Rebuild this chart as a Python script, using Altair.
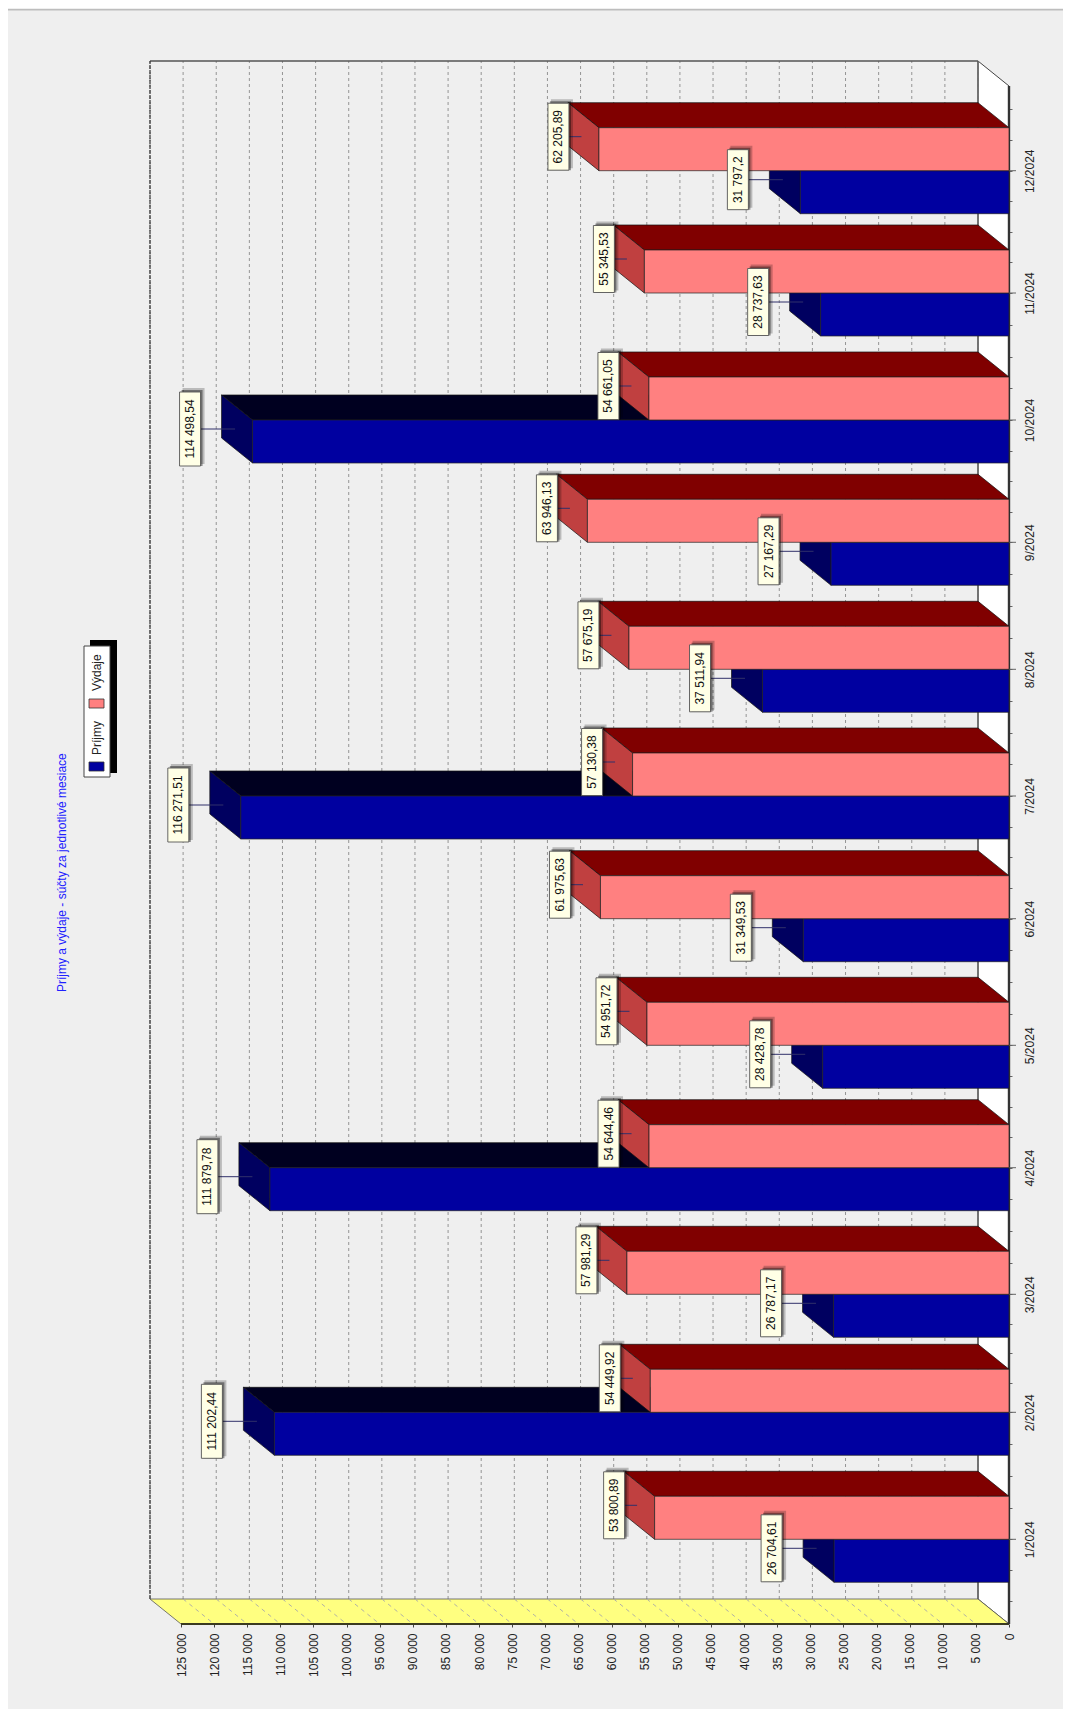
import altair as alt
import numpy as np
import pandas as pd

# ---- values ----
MONTHS = list(range(1, 13))
PRIJMY = [26704.61, 111202.44, 26787.17, 111879.78, 28428.78, 31349.53,
          116271.51, 37511.94, 27167.29, 114498.54, 28737.63, 31797.2]
VYDAJE = [53800.89, 54449.92, 57981.29, 54644.46, 54951.72, 61975.63,
          57130.38, 57675.19, 63946.13, 54661.05, 55345.53, 62205.89]
GRID = list(range(0, 125001, 5000))
QUARTERS = [q / 4 for q in range(2, 51)]
TITLE = "Príjmy a výdaje - súčty za jednotlivé mesiace"

# ---- scale set-up: the months of the reference are not evenly spaced ----
W, H = 859, 1563
PLOT_LEFT, PLOT_TOP = 150, 61
MONTH_ROW_PX = [1539.3, 1412.3, 1294.3, 1167.7, 1045.3, 918.7, 796, 669.3, 542.3, 420, 293, 170.7]
VAL_PX = 125000 / 828          # value units per pixel
DX = 31 * VAL_PX               # depth, along the value scale
DY_PX = 25                     # depth, in pixels
THICK_PX = 43                  # bar thickness in pixels
BAR_NUDGE = 2 * VAL_PX         # the reference draws its bar ends 2px short of the tick scale
PX_BOTTOM = PLOT_TOP + H
X_MAX = W * VAL_PX
Y_MIN = 1 - (PX_BOTTOM - MONTH_ROW_PX[0]) / 124.36
Y_MAX = 12 + (MONTH_ROW_PX[-1] - PLOT_TOP) / 124.36
FONT = "Liberation Sans"

Y_DOMAIN = [Y_MIN] + MONTHS + [Y_MAX]
Y_PAGE = [PX_BOTTOM] + MONTH_ROW_PX + [PLOT_TOP]


def M(page_y):
    """Month-scale position of a page pixel row (inverse of the y scale)."""
    return float(np.interp(-page_y, [-p for p in Y_PAGE], Y_DOMAIN))


xs = alt.Scale(domain=[X_MAX, 0], nice=False, zero=False)
ys = alt.Scale(domain=Y_DOMAIN, range=[p - PLOT_TOP for p in Y_PAGE], nice=False, zero=False)
x_axis = alt.Axis(values=GRID, labelAngle=270, labelAlign="right", labelBaseline="middle",
                  labelExpr="replace(format(datum.value, ','), ',', ' ')", labelOverlap=False,
                  labelFlush=False, labelBound=False, domain=False, grid=False, tickSize=3, tickColor="#444",
                  labelPadding=6, labelFont=FONT, labelFontSize=12, labelColor="#222", orient="bottom", title=None)
y_axis = alt.Axis(values=QUARTERS, orient="right", labelAngle=270, labelAlign="center",
                  labelBaseline="middle", labelExpr="datum.value % 1 === 0 ? datum.value + '/2024' : ''",
                  labelOverlap=False, labelFlush=False, labelBound=False, domain=False, grid=False, tickSize=3,
                  tickColor="#666", labelPadding=17, labelFont=FONT, labelFontSize=12, labelColor="#222", title=None)
X = lambda f="x": alt.X(f"{f}:Q", scale=xs, axis=x_axis, title=None)
Y = lambda f="y": alt.Y(f"{f}:Q", scale=ys, axis=y_axis, title=None)
X2 = lambda f="x2": alt.X2(f"{f}:Q")
Y2 = lambda f="y2": alt.Y2(f"{f}:Q")


def hpx(p):  # page pixel -> plot pixel
    return p - PLOT_LEFT


def vpx(p):
    return p - PLOT_TOP


one = pd.DataFrame({"a": [0]})


def box(x0, x1, y0, y1, **kw):
    return alt.Chart(one).mark_rect(**kw).encode(
        x=alt.value(hpx(x0)), x2=alt.value(hpx(x1)),
        y=alt.value(vpx(y0)), y2=alt.value(vpx(y1)))


def label(x, y, text, **kw):
    return alt.Chart(pd.DataFrame({"t": [text]})).mark_text(
        angle=270, baseline="middle", font=FONT, **kw).encode(
        x=alt.value(hpx(x)), y=alt.value(vpx(y)), text="t:N")


layers = []
FLOOR_BACK = M(PX_BOTTOM - DY_PX)
FRONT_TOP = M(PLOT_TOP + DY_PX)

# white right side wall
wall = pd.DataFrame({"x": [DX, 0], "y": [FLOOR_BACK, Y_MIN], "y2": [Y_MAX, FRONT_TOP], "k": [0, 0]})
layers.append(alt.Chart(wall).mark_area(orient="vertical", fill="white", stroke="#444", strokeWidth=1).encode(
    x=X(), y=Y(), y2=Y2(), detail="k:N"))

# back wall grid
grid = pd.DataFrame({"v": GRID})
grid["x"] = grid.v + DX
grid["y"] = FLOOR_BACK
grid["y2"] = Y_MAX
layers.append(alt.Chart(grid).mark_rule(stroke="#8A8A8A", strokeWidth=0.9, strokeDash=[3, 3]).encode(
    x=X(), y=Y(), y2=Y2()))
back = pd.DataFrame({"x": [DX], "y": [FLOOR_BACK], "y2": [Y_MAX]})
layers.append(alt.Chart(back).mark_rule(stroke="#666", strokeWidth=1.5).encode(x=X(), y=Y(), y2=Y2()))

# frame of the back wall
edge_top = pd.DataFrame({"x": [X_MAX], "x2": [DX], "y": [Y_MAX]})
layers.append(alt.Chart(edge_top).mark_rule(stroke="#555", strokeWidth=1.6).encode(x=X(), x2=X2(), y=Y()))
edge_left = pd.DataFrame({"x": [X_MAX], "y": [FLOOR_BACK], "y2": [Y_MAX]})
layers.append(alt.Chart(edge_left).mark_rule(stroke="#333", strokeWidth=1.2, strokeDash=[4, 1]).encode(x=X(), y=Y(), y2=Y2()))

# yellow floor
floor = pd.DataFrame({"y": [FLOOR_BACK, Y_MIN], "x": [125000 + DX, 125000], "x2": [DX, 0], "k": [0, 0]})
layers.append(alt.Chart(floor).mark_area(orient="horizontal", fill="#FFFF80", stroke="#555", strokeWidth=0.8).encode(
    y=Y(), x=X(), x2=X2(), detail="k:N"))
diag = pd.DataFrame([{"v": v, "x": v + d * DX, "y": (FLOOR_BACK if d else Y_MIN)} for v in GRID[1:-1] for d in (0, 1)])
layers.append(alt.Chart(diag).mark_line(stroke="#A8A8A8", strokeWidth=0.9, strokeDash=[4, 4]).encode(
    x=X(), y=Y(), detail="v:N"))
strip = pd.DataFrame({"x": [125000], "x2": [0], "y": [Y_MIN]})
layers.append(alt.Chart(strip).mark_rule(stroke="#3A3A20", strokeWidth=2.2).encode(x=X(), x2=X2(), y=Y()))
front = pd.DataFrame({"x": [0], "y": [Y_MIN], "y2": [FRONT_TOP]})
layers.append(alt.Chart(front).mark_rule(stroke="#333", strokeWidth=2.4).encode(x=X(), y=Y(), y2=Y2()))
long_ticks = pd.DataFrame({"y": MONTHS})
long_ticks["x"] = 0
long_ticks["x2"] = -7 * VAL_PX
layers.append(alt.Chart(long_ticks).mark_rule(stroke="#666", strokeWidth=1).encode(x=X(), x2=X2(), y=Y()))

# bars: blue first, the red front face covers its top face
SERIES = [
    ("Príjmy", PRIJMY, 0, THICK_PX, "#0000A0", "#000020", "#000060"),
    ("Výdaje", VYDAJE, -THICK_PX, 0, "#FF8080", "#800000", "#C04040"),
]
for name, values, up, down, c_front, c_top, c_side in SERIES:
    top_rows, side_rows, front_rows = [], [], []
    for m, value, row in zip(MONTHS, values, MONTH_ROW_PX):
        v = value - BAR_NUDGE
        t, b = row + up, row + down  # page rows of the front face
        top_rows += [{"m": m, "y": M(t - DY_PX), "x": v + DX, "x2": DX}, {"m": m, "y": M(t), "x": v, "x2": 0}]
        side_rows += [{"m": m, "x": v + DX, "y": M(b - DY_PX), "y2": M(t - DY_PX)},
                      {"m": m, "x": v, "y": M(b), "y2": M(t)}]
        front_rows.append({"m": m, "x": v, "x2": 0, "y": M(b), "y2": M(t)})
    layers.append(alt.Chart(pd.DataFrame(top_rows)).mark_area(
        orient="horizontal", fill=c_top, stroke="#111", strokeWidth=0.7).encode(
        y=Y(), x=X(), x2=X2(), detail="m:N"))
    layers.append(alt.Chart(pd.DataFrame(side_rows)).mark_area(
        orient="vertical", fill=c_side, stroke="#111", strokeWidth=0.7).encode(
        x=X(), y=Y(), y2=Y2(), detail="m:N"))
    layers.append(alt.Chart(pd.DataFrame(front_rows)).mark_rect(
        fill=c_front, stroke="#222", strokeWidth=0.7).encode(
        x=X(), x2=X2(), y=Y(), y2=Y2()))


def money(v):
    return f"{v:,.2f}".replace(",", " ").replace(".", ",").rstrip("0")


# call-outs
rows = []
for values, shift, gap in [(PRIJMY, 9, 19), (VYDAJE, -34, -3)]:
    for m, v, row in zip(MONTHS, values, MONTH_ROW_PX):
        t = money(v)
        yc = row + shift
        half = (7 * len(t) + 4) / 2
        right = v + DX + gap * VAL_PX
        rows.append({"t": t, "yc": M(yc), "yt": M(yc - half), "yb": M(yc + half),
                     "xr": right, "xl": right + 21 * VAL_PX, "xc": right + 10.5 * VAL_PX,
                     "xe": v + DX / 2,
                     "sl": right + 18 * VAL_PX, "sr": right - 4 * VAL_PX,
                     "st": M(yc - half - 4), "sb": M(yc + half - 2),
                     "tl": right + 19 * VAL_PX, "tr": right - 2 * VAL_PX,
                     "tt": M(yc - half - 2), "tb": M(yc + half)})
call = pd.DataFrame(rows)
layers.append(alt.Chart(call).mark_rule(stroke="#30306A", strokeWidth=1).encode(
    x=X("xr"), x2=X2("xe"), y=Y("yc")))
layers.append(alt.Chart(call).mark_rect(fill="#000", opacity=0.22).encode(
    x=X("sl"), x2=X2("sr"), y=Y("st"), y2=Y2("sb")))
layers.append(alt.Chart(call).mark_rect(fill="#000", opacity=0.4).encode(
    x=X("tl"), x2=X2("tr"), y=Y("tt"), y2=Y2("tb")))
layers.append(alt.Chart(call).mark_rect(fill="#FFFFE6", stroke="#555", strokeWidth=0.9).encode(
    x=X("xl"), x2=X2("xr"), y=Y("yt"), y2=Y2("yb")))
layers.append(alt.Chart(call).mark_text(angle=270, baseline="middle", font=FONT, fontSize=12, color="#111").encode(
    x=X("xc"), y=Y("yc"), text="t:N"))

# top edge of the window panel, title, legend
layers.append(box(8, 1071, 9, 10.5, fill="#BDBDBD"))
layers.append(label(62, 992, TITLE, align="left", fontSize=12, color="#2020FF"))
layers.append(box(90, 117, 640, 773, fill="#000"))
layers.append(box(84, 110, 646, 777, fill="white", stroke="#444", strokeWidth=1))
layers.append(box(89, 104, 762, 771, fill="#0000A0", stroke="#333", strokeWidth=0.8))
layers.append(box(89, 104, 699, 708, fill="#FF8080", stroke="#333", strokeWidth=0.8))
layers.append(label(97, 755, "Príjmy", align="left", fontSize=12, color="#222"))
layers.append(label(97, 691, "Výdaje", align="left", fontSize=12, color="#222"))

chart = alt.layer(*layers).properties(
    width=W, height=H,
    background="#EFEFEF",
    padding={"left": 142, "top": 53, "right": 54, "bottom": 85},
    autosize=alt.AutoSizeParams(type="none"),
).configure_view(stroke=None)

chart.save("out.html", embed_options={"renderer": "svg", "actions": False})
